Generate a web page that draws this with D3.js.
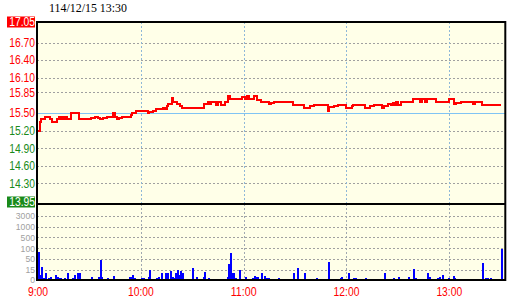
<!DOCTYPE html>
<html>
<head>
<meta charset="utf-8">
<script src="https://cdn.jsdelivr.net/npm/d3@7"></script>
<style>
  body { margin: 0; background: #fff; }
  svg { display: block; }
  text { font-family: "Liberation Sans", Arial, sans-serif; font-size: 12px; }
</style>
</head>
<body>
<div class="canvas"></div>
<script>
// price change points (time, price)
const priceTimes = ["9:00","9:01","9:02","9:04","9:07","9:08","9:11","9:12","9:13","9:14","9:15","9:16","9:17","9:19","9:24",
  "9:31","9:33","9:35","9:36","9:38","9:40","9:44","9:45","9:46","9:47","9:49","9:54","9:55","9:57",
  "10:04","10:05","10:07","10:09","10:11","10:13","10:14","10:15","10:16","10:18","10:19","10:21","10:23","10:24",
  "10:37","10:39","10:40","10:41","10:44","10:45","10:47","10:49","10:51","10:52","10:59",
  "11:01","11:02","11:03","11:06","11:08","11:10","11:15","11:16","11:18","11:29","11:35","11:39","11:41","11:49","11:50","11:53","11:55",
  "12:00","12:03","12:04","12:11","12:14","12:16","12:21","12:22","12:24","12:26","12:27","12:28","12:29","12:30","12:32","12:39",
  "12:43","12:44","12:46","12:47","12:48","12:52","13:00","13:03","13:04","13:07","13:14","13:15","13:19","13:30"];
const prices = [15.19,15.35,15.39,15.44,15.39,15.35,15.39,15.44,15.39,15.44,15.39,15.44,15.39,15.50,15.39,
  15.42,15.44,15.42,15.39,15.42,15.44,15.50,15.44,15.39,15.42,15.44,15.47,15.50,15.54,
  15.50,15.52,15.54,15.56,15.57,15.59,15.56,15.62,15.66,15.75,15.69,15.66,15.62,15.59,
  15.66,15.69,15.66,15.68,15.64,15.68,15.64,15.68,15.79,15.74,15.77,
  15.74,15.79,15.74,15.79,15.72,15.69,15.65,15.67,15.69,15.64,15.59,15.62,15.64,15.53,15.60,15.62,15.64,
  15.59,15.62,15.64,15.59,15.62,15.64,15.59,15.62,15.66,15.64,15.67,15.64,15.69,15.64,15.69,15.73,
  15.69,15.73,15.69,15.73,15.74,15.69,15.73,15.65,15.67,15.69,15.65,15.69,15.64,15.64];

// volume per minute (lots)
const volTimes = ["9:00","9:01","9:02","9:03","9:04","9:06","9:07","9:10","9:11","9:12","9:13","9:15","9:17","9:18","9:20","9:21","9:23","9:24","9:26","9:27",
  "9:31","9:35","9:36","9:37","9:40","9:44","9:45","9:50","9:53","9:54","9:55","9:56","9:57",
  "10:00","10:01","10:03","10:04","10:05","10:07","10:09","10:10","10:12","10:14","10:15","10:17","10:18","10:19","10:20","10:21","10:22","10:23","10:24","10:26","10:29",
  "10:30","10:32","10:33","10:35","10:36","10:37","10:39","10:41","10:42","10:44","10:49","10:50","10:51","10:52","10:53","10:54","10:55","10:57","10:59",
  "11:00","11:01","11:02","11:05","11:06","11:07","11:08","11:09","11:10","11:12","11:13","11:14","11:18","11:20","11:27","11:29","11:31","11:34","11:35","11:42","11:49","11:56","11:57",
  "12:01","12:03","12:04","12:05","12:11","12:18","12:20","12:22","12:26","12:27","12:30","12:32","12:35","12:36","12:38","12:39","12:40","12:42","12:45","12:47","12:48","12:49","12:50","12:53","12:54","12:56","12:59",
  "13:02","13:03","13:07","13:09","13:11","13:12","13:15","13:17","13:18","13:19","13:21","13:22","13:24","13:30"];
const volumes = [82,7,26,2,10,3,4,7,4,3,3,2,10,1,2,7,10,10,1,1,
  4,4,48,4,3,6,1,1,4,4,7,2,1,
  3,3,1,4,15,1,2,4,10,10,10,14,4,3,10,15,7,14,10,1,1,
  21,4,1,1,4,12,3,1,1,1,1,4,35,77,10,10,3,15,1,
  1,4,1,3,5,4,4,1,10,5,2,2,1,2,1,10,21,1,10,2,40,2,4,
  11,1,2,2,2,1,1,10,1,2,4,1,1,4,1,19,2,1,1,11,4,1,1,2,4,7,2,
  5,2,1,1,1,1,1,1,1,38,2,2,2,97];

// axis labels
const priceTicks = [16.70, 16.40, 16.10, 15.85, 15.50, 15.20, 14.90, 14.60, 14.30];
const refPrice = 15.50;
const limitUp = 17.05;
const limitDown = 13.95;
const volTicks = [0, 15, 50, 100, 500, 1000, 3000];
const hourTicks = ["9:00", "10:00", "11:00", "12:00", "13:00"];
const title = "114/12/15 13:30";

const W = 520, H = 300;
const pLeft = 37, pRight = 505.3, pTop = 22, pMid = 204, pBottom = 280;

const parse = d3.timeParse("%H:%M");

// narrow bitmap-like label widths
const textLen = s => s.split('').reduce((a, c) => a + (/\d/.test(c) ? 5.6 : 3.4), 0);

const svg = d3.select('.canvas')
    .append('svg')
    .attr('width', W)
    .attr('height', H);

const x = d3.scaleTime()
    .domain([parse("9:00"), parse("13:30")])
    .range([38, 500.7]);

const y = d3.scaleLinear()
    .domain([limitDown, limitUp])
    .range([pMid, pTop]);

const vy = d3.scaleLinear()
    .domain(volTicks)
    .range(volTicks.map((d, i) => i === 0 ? 279.5 : 281 - i * 10.9));

// plot background
svg.append('rect')
    .attr('x', pLeft).attr('y', pTop)
    .attr('width', pRight - pLeft).attr('height', pBottom - pTop)
    .attr('fill', '#ffffe8');

const grid = svg.append('g').attr('shape-rendering', 'crispEdges');

// horizontal grid, price area
grid.selectAll('.pgrid')
    .data(priceTicks.filter(d => d !== refPrice))
    .enter().append('line')
    .attr('x1', pLeft).attr('x2', pRight)
    .attr('y1', d => Math.round(y(d)) + 0.5).attr('y2', d => Math.round(y(d)) + 0.5)
    .attr('stroke', '#a0a0a0')
    .attr('stroke-dasharray', '2,2');

// horizontal grid, volume area
grid.selectAll('.vgrid')
    .data(volTicks.slice(1))
    .enter().append('line')
    .attr('x1', pLeft).attr('x2', pRight)
    .attr('y1', d => Math.round(vy(d)) + 0.5).attr('y2', d => Math.round(vy(d)) + 0.5)
    .attr('stroke', '#a0a0a0')
    .attr('stroke-dasharray', '2,2');

// vertical hour lines
const hours = hourTicks.slice(1).map(parse);
grid.selectAll('.hp')
    .data(hours)
    .enter().append('line')
    .attr('x1', d => Math.round(x(d)) + 0.5).attr('x2', d => Math.round(x(d)) + 0.5)
    .attr('y1', pTop).attr('y2', pMid)
    .attr('stroke', '#8fb8d8')
    .attr('stroke-dasharray', '2,2');
grid.selectAll('.hv')
    .data(hours)
    .enter().append('line')
    .attr('x1', d => Math.round(x(d)) + 0.5).attr('x2', d => Math.round(x(d)) + 0.5)
    .attr('y1', pMid).attr('y2', pBottom)
    .attr('stroke', '#a0a8b0')
    .attr('stroke-dasharray', '2,2');

// reference price line
grid.append('line')
    .attr('x1', pLeft).attr('x2', pRight)
    .attr('y1', Math.round(y(refPrice)) + 0.5).attr('y2', Math.round(y(refPrice)) + 0.5)
    .attr('stroke', '#80c4f4');

// frame
const frame = svg.append('g').attr('stroke', '#000').attr('stroke-width', 2);
frame.append('line').attr('x1', pLeft).attr('x2', pLeft).attr('y1', pTop - 1).attr('y2', pBottom + 1);
frame.append('line').attr('x1', pRight).attr('x2', pRight).attr('y1', pTop - 1).attr('y2', pBottom + 1);
frame.append('line').attr('x1', pLeft).attr('x2', pRight).attr('y1', pTop).attr('y2', pTop);
frame.append('line').attr('x1', pLeft).attr('x2', pRight).attr('y1', pMid).attr('y2', pMid);
frame.append('line').attr('x1', pLeft).attr('x2', pRight).attr('y1', pBottom).attr('y2', pBottom);

// volume bars
const vol = volTimes.map((t, i) => ({ t: parse(t), v: volumes[i] }));
svg.append('g')
    .attr('shape-rendering', 'crispEdges')
    .selectAll('rect')
    .data(vol)
    .enter().append('rect')
    .attr('x', d => Math.round(x(d.t)))
    .attr('width', 1.5)
    .attr('y', d => Math.round(vy(d.v)))
    .attr('height', d => 279 - Math.round(vy(d.v)))
    .attr('fill', '#0000ff');

// price line
const pts = priceTimes.map((t, i) => ({ t: parse(t), p: prices[i] }));
const line = d3.line()
    .x(d => Math.round(x(d.t)))
    .y(d => Math.round(y(d.p)))
    .curve(d3.curveStepAfter);
svg.append('path')
    .datum(pts)
    .attr('d', line)
    .attr('fill', 'none')
    .attr('stroke', '#ff0000')
    .attr('stroke-width', 2)
    .attr('shape-rendering', 'crispEdges');

// price labels
svg.append('g').selectAll('text')
    .data(priceTicks)
    .enter().append('text')
    .attr('x', 35)
    .attr('y', d => y(d))
    .attr('dy', '0.36em')
    .attr('text-anchor', 'end')
    .attr('textLength', d => textLen(d.toFixed(2)))
    .attr('lengthAdjust', 'spacingAndGlyphs')
    .attr('fill', d => d >= refPrice ? '#ff0000' : '#1a8a1a')
    .text(d => d.toFixed(2));

// limit labels with boxes
[[limitUp, '#ff0000', 22], [limitDown, '#1a8a1a', 202]].forEach(([v, c, cy]) => {
    svg.append('rect')
        .attr('x', 7).attr('y', cy - 5.5)
        .attr('width', 28).attr('height', 11)
        .attr('fill', c);
    svg.append('text')
        .attr('x', 35).attr('y', cy)
        .attr('dy', '0.36em')
        .attr('text-anchor', 'end')
        .attr('textLength', textLen(v.toFixed(2)))
        .attr('lengthAdjust', 'spacingAndGlyphs')
        .attr('fill', '#fff')
        .text(v.toFixed(2));
});

// volume labels
svg.append('g').selectAll('text')
    .data(volTicks)
    .enter().append('text')
    .attr('x', 35)
    .attr('y', d => vy(d))
    .attr('dy', '0.36em')
    .attr('text-anchor', 'end')
    .style('font-size', '9px')
    .attr('textLength', d => String(d).length * 4.8)
    .attr('lengthAdjust', 'spacingAndGlyphs')
    .attr('fill', '#a0a0a0')
    .text(d => d);

// time labels
svg.append('g').selectAll('text')
    .data(hourTicks)
    .enter().append('text')
    .attr('x', d => x(parse(d)))
    .attr('y', 292)
    .attr('dy', '0.36em')
    .attr('text-anchor', 'middle')
    .attr('textLength', d => textLen(d))
    .attr('lengthAdjust', 'spacingAndGlyphs')
    .attr('fill', '#ff0000')
    .text(d => d);

// title
svg.append('text')
    .attr('x', 49)
    .attr('y', 12)
    .style('font-family', '"Liberation Serif", serif')
    .style('font-size', '13px')
    .attr('textLength', 78)
    .attr('lengthAdjust', 'spacingAndGlyphs')
    .attr('fill', '#000')
    .text(title);
</script>
</body>
</html>
